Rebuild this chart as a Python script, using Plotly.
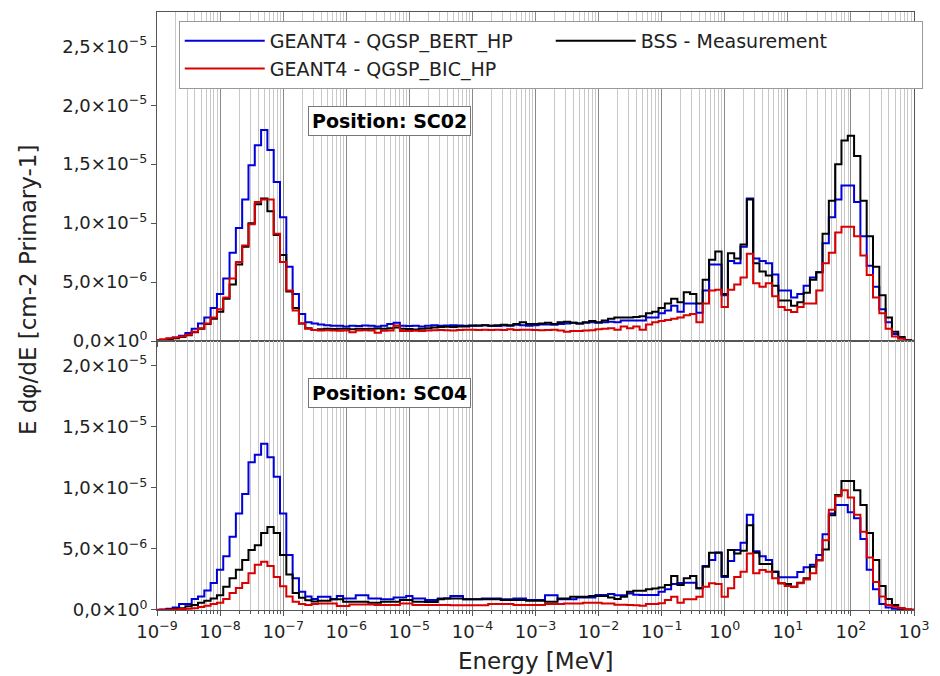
import plotly.graph_objects as go
from plotly.subplots import make_subplots

# ---------------- data (flux values in units of 1e-6 cm-2 per primary) ----------------
SCALE = 1e-6
# bin centres: 10 bins per decade, 1e-9 ... 1e3 MeV
energy_mev = [10 ** (-9 + i / 10) for i in range(121)]

sc02_bert = [
    0.05, 0.1, 0.2, 0.3, 0.45, 0.7, 1.05, 1.5, 2.0, 2.8,
    4.0, 5.3, 7.5, 9.6, 12.0, 14.9, 16.6, 17.9, 16.2, 13.5,
    10.5, 6.3, 4.0, 2.3, 1.6, 1.5, 1.4, 1.35, 1.3, 1.3,
    1.25, 1.3, 1.28, 1.32, 1.3, 1.25, 1.3, 1.45, 1.55, 1.3,
    1.28, 1.3, 1.25, 1.3, 1.35, 1.3, 1.33, 1.35, 1.32, 1.3,
    1.33, 1.3, 1.35, 1.3, 1.28, 1.32, 1.3, 1.38, 1.35, 1.3,
    1.35, 1.4, 1.42, 1.38, 1.45, 1.5, 1.55, 1.5, 1.55, 1.6,
    1.55, 1.6, 1.65, 1.6, 1.75, 1.75, 1.75, 1.75, 2.0, 2.0,
    2.37, 2.6, 3.0, 2.5, 3.2, 3.2, 2.4, 4.3, 6.5, 6.5,
    3.9, 6.8, 6.6, 8.0, 12.1, 7.0, 6.8, 6.6, 5.65, 4.3,
    4.3, 3.7, 4.0, 4.7, 5.4, 5.85, 8.3, 10.5, 12.0, 13.2,
    13.2, 11.8, 8.9, 6.4, 4.6, 2.7, 1.6, 0.6, 0.3, 0.1, 0.03,
]
sc02_bic = [
    0.1, 0.15, 0.25, 0.3, 0.4, 0.55, 0.8, 1.1, 1.5, 2.0,
    2.7, 3.7, 5.3, 6.7, 8.1, 9.9, 11.8, 12.0, 12.0, 9.1,
    6.7, 4.3, 2.6, 1.5, 1.05, 0.95, 0.9, 0.92, 0.9, 0.88,
    0.9, 0.75, 0.9, 0.92, 0.9, 0.72, 0.88, 0.9, 1.33, 0.85,
    0.85, 0.88, 0.85, 0.9, 0.92, 0.95, 0.92, 0.9, 0.95, 0.97,
    0.97, 0.95, 0.97, 0.95, 0.97, 0.95, 1.0, 0.95, 0.97, 0.97,
    0.95, 0.92, 0.95, 0.97, 0.9, 0.8, 0.85, 0.87, 0.9, 0.92,
    1.0, 1.05, 1.1, 0.96, 1.25, 1.1, 1.25, 0.96, 1.4, 1.6,
    1.7, 1.8, 1.9, 2.0, 2.2, 2.3, 1.6, 3.2, 4.3, 4.35,
    2.9, 4.35, 4.8, 5.4, 7.4, 4.9, 4.6, 4.9, 3.8, 2.9,
    2.65, 2.46, 2.9, 3.2, 3.2, 4.3, 6.6, 7.5, 9.2, 9.7,
    9.7, 8.9, 7.25, 5.6, 3.7, 2.37, 1.04, 0.4, 0.2, 0.05, 0.02,
]
sc02_bss = [
    0.05, 0.1, 0.15, 0.25, 0.35, 0.5, 0.75, 1.05, 1.45, 1.9,
    2.5, 3.6, 4.8, 6.5, 8.0, 10.0, 11.6, 12.1, 11.0, 9.0,
    7.3, 4.2, 2.8, 1.5, 1.1, 0.95, 1.0, 1.05, 1.02, 1.05,
    1.05, 1.0, 1.05, 1.02, 1.05, 1.08, 1.05, 1.1, 1.15, 1.05,
    1.02, 0.98, 1.05, 1.1, 1.15, 1.2, 1.22, 1.2, 1.25, 1.25,
    1.3, 1.32, 1.35, 1.3, 1.35, 1.38, 1.35, 1.45, 1.6, 1.45,
    1.45, 1.5, 1.55, 1.45, 1.6, 1.65, 1.55, 1.5, 1.6, 1.7,
    1.6, 1.75, 1.9, 2.0, 2.0, 2.0, 2.05, 2.1, 2.37, 2.5,
    2.8, 3.2, 3.6, 3.3, 4.15, 4.0, 3.2, 5.2, 6.9, 7.6,
    4.0, 7.45, 7.0, 8.2, 12.0, 6.6, 5.9, 5.57, 4.7, 3.45,
    3.45, 3.0, 3.3, 4.1, 5.2, 5.85, 9.1, 11.9, 15.0, 17.0,
    17.4, 15.7, 11.9, 8.9, 6.3, 3.9, 2.0, 0.8, 0.35, 0.1, 0.02,
]

sc04_bert = [
    0.02, 0.05, 0.1, 0.2, 0.5, 0.5, 0.9, 1.1, 1.6, 2.2,
    3.3, 4.4, 6.0, 7.9, 9.5, 12.1, 12.7, 13.6, 12.5, 10.9,
    7.9, 4.5, 2.6, 1.5, 1.1, 0.9, 1.09, 1.09, 0.87, 1.14,
    0.95, 0.95, 1.2, 1.2, 0.95, 0.95, 0.87, 0.87, 1.03, 1.03,
    1.14, 0.95, 0.95, 0.82, 0.82, 0.95, 0.95, 1.14, 1.14, 0.87,
    0.87, 0.87, 0.95, 0.95, 0.95, 0.87, 0.87, 0.95, 0.95, 0.82,
    0.82, 0.82, 1.2, 1.2, 0.87, 0.87, 0.87, 1.03, 1.03, 1.03,
    1.23, 1.23, 1.31, 1.2, 1.2, 1.36, 1.25, 1.22, 1.22, 1.22,
    1.5, 1.7, 2.12, 2.2, 2.23, 2.23, 1.77, 3.6, 4.1, 4.7,
    2.7, 4.0, 4.9, 5.5, 7.8, 4.8, 4.4, 4.1, 3.13, 2.67,
    2.67, 2.67, 3.1, 3.5, 3.7, 4.5, 6.2, 7.9, 8.6, 8.6,
    8.0, 7.5, 5.8, 3.3, 1.7, 0.5, 0.2, 0.1, 0.05, 0.02, 0.01,
]
sc04_bic = [
    0.0, 0.02, 0.03, 0.05, 0.08, 0.1, 0.15, 0.25, 0.35, 0.5,
    0.6, 0.9, 1.4, 1.8, 2.2, 3.0, 3.7, 3.95, 3.6, 2.7,
    1.95, 1.1, 0.68, 0.5, 0.4, 0.5, 0.54, 0.54, 0.54, 0.33,
    0.33, 0.46, 0.46, 0.46, 0.46, 0.41, 0.41, 0.41, 0.41, 0.54,
    0.54, 0.41, 0.41, 0.41, 0.41, 0.41, 0.41, 0.38, 0.38, 0.38,
    0.38, 0.38, 0.38, 0.49, 0.49, 0.49, 0.49, 0.41, 0.41, 0.41,
    0.41, 0.41, 0.49, 0.49, 0.49, 0.54, 0.54, 0.54, 0.6, 0.6,
    0.6, 0.54, 0.54, 0.43, 0.43, 0.4, 0.38, 0.35, 0.49, 0.49,
    0.55, 0.82, 1.09, 0.6, 0.87, 0.87, 1.09, 1.91, 2.18, 2.12,
    1.09, 1.77, 2.7, 3.13, 4.63, 3.0, 3.27, 3.13, 2.59, 2.18,
    1.96, 1.91, 2.18, 2.5, 3.0, 4.08, 5.7, 8.2, 9.3, 9.8,
    9.2, 7.8, 6.4, 4.3, 2.3, 1.1, 0.41, 0.27, 0.15, 0.05, 0.02,
]
sc04_bss = [
    0.0, 0.0, 0.05, 0.1, 0.15, 0.3, 0.4, 0.6, 0.75, 0.95,
    1.2, 1.9, 2.6, 3.3, 4.1, 4.9, 5.3, 6.3, 6.8, 6.3,
    4.5, 2.9, 1.4, 1.0, 0.8, 0.7, 0.76, 0.76, 0.87, 0.87,
    0.68, 0.68, 0.68, 0.68, 0.6, 0.6, 0.68, 0.68, 0.68, 0.82,
    0.82, 0.68, 0.68, 0.65, 0.65, 0.87, 0.95, 0.95, 0.95, 0.87,
    0.87, 0.87, 0.87, 0.87, 0.87, 0.82, 0.82, 0.82, 0.82, 0.76,
    0.76, 0.76, 0.68, 0.68, 0.95, 0.95, 1.09, 1.09, 1.09, 1.14,
    1.14, 1.14, 1.03, 0.9, 1.09, 1.5, 1.58, 1.58, 1.69, 1.75,
    1.85, 2.04, 2.78, 2.04, 2.59, 2.78, 1.77, 3.54, 4.68, 4.68,
    2.78, 4.9, 4.63, 4.85, 6.94, 4.68, 3.76, 3.76, 3.13, 2.18,
    2.12, 1.91, 2.23, 2.59, 3.54, 4.08, 4.95, 7.76, 9.4, 10.56,
    10.56, 9.8, 8.6, 6.3, 4.1, 1.96, 0.9, 0.41, 0.14, 0.05, 0.02,
]

series_names = ["GEANT4 - QGSP_BERT_HP", "BSS - Measurement", "GEANT4 - QGSP_BIC_HP"]
series_colors = ["#0000d8", "#000000", "#d80000"]
panel_labels = ["Position: SC02", "Position: SC04"]

x_tick_exps = list(range(-9, 4))
y_top_ticks = [0, 5e-6, 1e-5, 1.5e-5, 2e-5, 2.5e-5]
y_top_text = ["0,0×10<sup>0</sup>", "5,0×10<sup>−6</sup>", "1,0×10<sup>−5</sup>",
              "1,5×10<sup>−5</sup>", "2,0×10<sup>−5</sup>", "2,5×10<sup>−5</sup>"]
y_bot_ticks = y_top_ticks[:5]
y_bot_text = y_top_text[:5]

# ---------------- figure ----------------
FONT = "DejaVu Sans"
fig = make_subplots(rows=2, cols=1, shared_xaxes=True, vertical_spacing=0)

panels = [(1, [sc02_bert, sc02_bss, sc02_bic]), (2, [sc04_bert, sc04_bss, sc04_bic])]
for row, data in panels:
    for name, color, vals in zip(series_names, series_colors, data):
        fig.add_trace(go.Scatter(
            x=energy_mev, y=[v * SCALE for v in vals], mode="lines",
            line=dict(color=color, width=2, shape="hvh"),
            name=name, showlegend=(row == 1),
        ), row=row, col=1)

major_vals = [10.0 ** e for e in x_tick_exps]
minor_vals = [m * 10.0 ** e for e in x_tick_exps[:-1] for m in range(2, 10)]
x_text = ["10<sup>%s</sup>" % (str(e).replace("-", "−")) for e in x_tick_exps]

axis_line = dict(showline=True, linecolor="#555555", linewidth=1, mirror=True)
xcommon = dict(type="log", range=[-9, 3], tickvals=major_vals, ticktext=x_text,
               showgrid=True, gridcolor="#8a8a8a", gridwidth=1,
               minor=dict(tickvals=minor_vals, showgrid=True, gridcolor="#c8c8c8",
                          gridwidth=1, ticks="outside", ticklen=3, tickcolor="#555555"),
               ticks="outside", ticklen=5, tickcolor="#555555", zeroline=False,
               **axis_line)
fig.update_xaxes(**xcommon)
fig.update_xaxes(showticklabels=False, row=1, col=1)
fig.update_xaxes(showticklabels=True, tickfont=dict(family=FONT, size=18, color="#222"),
                 row=2, col=1)

ycommon = dict(showgrid=False, zeroline=False, ticks="outside", ticklen=5,
               tickcolor="#555555", tickfont=dict(family=FONT, size=18, color="#222"),
               **axis_line)
fig.update_yaxes(range=[0, 2.79e-5], tickvals=y_top_ticks, ticktext=y_top_text,
                 domain=[0.4496, 1.0], **ycommon, row=1, col=1)
fig.update_yaxes(range=[0, 2.2e-5], tickvals=y_bot_ticks, ticktext=y_bot_text,
                 domain=[0.0, 0.4496], **ycommon, row=2, col=1)

annotations = [
    dict(text="<b>%s</b>" % panel_labels[0], xref="paper", yref="paper",
         x=(392.5 - 157) / 766, y=(610 - 120) / 599, xanchor="center", yanchor="middle",
         showarrow=False, font=dict(family=FONT, size=19, color="black"),
         bgcolor="white", bordercolor="#777777", borderwidth=1, borderpad=3),
    dict(text="<b>%s</b>" % panel_labels[1], xref="paper", yref="paper",
         x=(392.5 - 157) / 766, y=(610 - 392.5) / 599, xanchor="center", yanchor="middle",
         showarrow=False, font=dict(family=FONT, size=19, color="black"),
         bgcolor="white", bordercolor="#777777", borderwidth=1, borderpad=3),
    dict(text="E dφ/dE [cm-2 Primary-1]", xref="paper", yref="paper",
         x=(26 - 157) / 766, y=(610 - 290) / 599, xanchor="center", yanchor="middle",
         textangle=-90, showarrow=False, font=dict(family=FONT, size=23, color="#222")),
    dict(text="Energy [MeV]", xref="paper", yref="paper",
         x=(540 - 157) / 766, y=(610 - 661) / 599, xanchor="center", yanchor="middle",
         showarrow=False, font=dict(family=FONT, size=23, color="#222")),
]

fig.update_layout(
    width=940, height=676,
    margin=dict(l=157, r=17, t=11, b=66),
    paper_bgcolor="white", plot_bgcolor="white",
    font=dict(family=FONT, color="#222"),
    annotations=annotations,
    legend=dict(orientation="h", x=(179 - 157) / 766, y=(610 - 20) / 599,
                xanchor="left", yanchor="top", entrywidth=276, entrywidthmode="pixels",
                itemwidth=80, bgcolor="white", bordercolor="#999999", borderwidth=1,
                font=dict(family=FONT, size=19, color="#222"), traceorder="normal"),
)

fig.write_html("out.html")
